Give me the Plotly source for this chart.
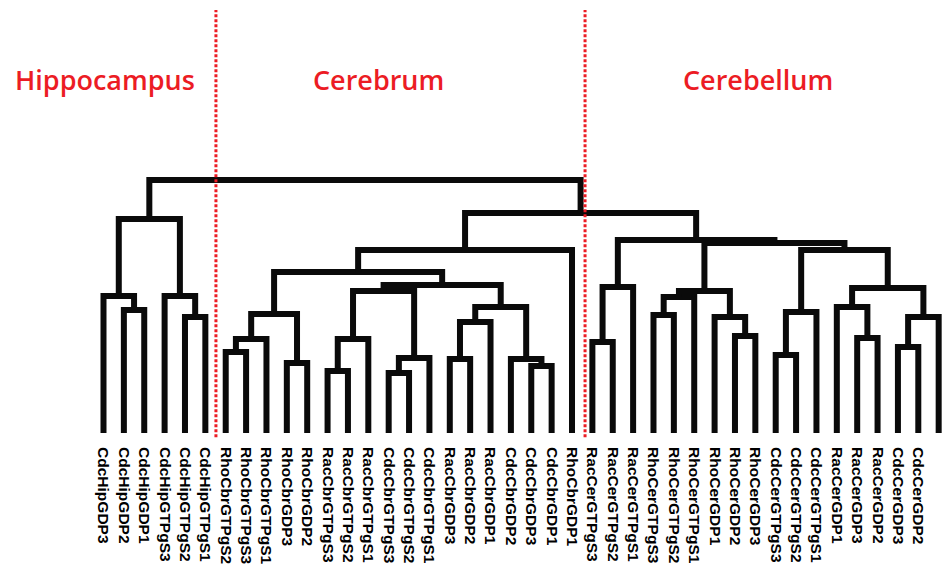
import plotly.graph_objects as go

# ---- data ----
leaf_labels = [
    "CdcHipGDP3", "CdcHipGDP2", "CdcHipGDP1", "CdcHipGTPgS3", "CdcHipGTPgS2", "CdcHipGTPgS1",
    "RhoCbrGTPgS2", "RhoCbrGTPgS3", "RhoCbrGTPgS1", "RhoCbrGDP3", "RhoCbrGDP2",
    "RacCbrGTPgS3", "RacCbrGTPgS2", "RacCbrGTPgS1",
    "CdcCbrGTPgS3", "CdcCbrGTPgS2", "CdcCbrGTPgS1",
    "RacCbrGDP3", "RacCbrGDP2", "RacCbrGDP1",
    "CdcCbrGDP2", "CdcCbrGDP3", "CdcCbrGDP1", "RhoCbrGDP1",
    "RacCerGTPgS3", "RacCerGTPgS2", "RacCerGTPgS1",
    "RhoCerGTPgS3", "RhoCerGTPgS2", "RhoCerGTPgS1",
    "RhoCerGDP1", "RhoCerGDP2", "RhoCerGDP3",
    "CdcCerGTPgS3", "CdcCerGTPgS2", "CdcCerGTPgS1",
    "RacCerGDP1", "RacCerGDP3", "RacCerGDP2",
    "CdcCerGDP3", "CdcCerGDP2", "CdcCerGDP1",
]

# merges: (left id, right id) ; ids < 42 are leaves, id 42+k is merge k
merge_left = [1, 0, 4, 3, 43, 6, 47, 9, 48, 11, 51, 14, 53, 52, 17, 56, 21, 20, 57, 55, 50, 62,
              24, 64, 27, 66, 31, 30, 67, 33, 71, 37, 36, 39, 75, 74, 72, 70, 65, 63, 46]
merge_right = [2, 42, 5, 44, 45, 7, 8, 10, 49, 12, 13, 15, 16, 54, 18, 19, 22, 58, 59, 60, 61, 23,
               25, 26, 28, 29, 32, 68, 69, 34, 35, 38, 73, 40, 41, 76, 77, 78, 79, 80, 81]
merge_height = [123, 137, 116, 137, 214, 81, 94, 70, 119, 62, 94, 60, 75, 142, 74, 111, 67, 74,
                126, 148, 161, 183, 91, 146, 118, 136, 97, 116, 142, 78, 121, 95, 126, 86, 116,
                145, 183, 190, 193, 220, 253]

group_names = ["Hippocampus", "Cerebrum", "Cerebellum"]
group_centers = [0.07, 13.52, 32.13]       # in leaf-index units
group_dividers = [5.52, 23.64]             # in leaf-index units

# ---- build dendrogram segments ----
n = len(leaf_labels)
pos = {i: float(i) for i in range(n)}
hgt = {i: 0.0 for i in range(n)}
xs, ys = [], []
for k, (a, b, h) in enumerate(zip(merge_left, merge_right, merge_height)):
    nid = n + k
    xs += [pos[a], pos[a], pos[b], pos[b], None]
    ys += [hgt[a], h, h, hgt[b], None]
    pos[nid] = (pos[a] + pos[b]) / 2
    hgt[nid] = h

fig = go.Figure()
fig.add_trace(go.Scatter(x=xs, y=ys, mode="lines",
                         line=dict(color="#0a0a0a", width=6),
                         hoverinfo="skip", showlegend=False))

x0_px, dx_px = 103.5, 20.37
W, H = 943, 564
plot_h = 433

for d in group_dividers:
    fig.add_shape(type="line", xref="x", yref="paper", x0=d, x1=d,
                  y0=-0.01, y1=(plot_h - 10) / plot_h,
                  line=dict(color="#ec1c24", width=3, dash="3px,2px"))

for name, c in zip(group_names, group_centers):
    fig.add_annotation(x=c, y=(plot_h - 80) / plot_h, xref="x", yref="paper",
                       text=name, showarrow=False, xanchor="center", yanchor="middle",
                       font=dict(family="Open Sans", size=27, weight=600, color="#ec1c24"))

fig.update_layout(
    width=W, height=H,
    margin=dict(l=0, r=0, t=0, b=H - plot_h, pad=0),
    plot_bgcolor="white", paper_bgcolor="white",
    xaxis=dict(range=[-x0_px / dx_px, (W - x0_px) / dx_px],
               tickmode="array", tickvals=list(range(n)), ticktext=leaf_labels,
               tickangle=90, ticks="outside", ticklen=10, tickcolor="rgba(0,0,0,0)",
               showgrid=False, zeroline=False, showline=False,
               tickfont=dict(family="Liberation Sans", size=15.5, weight="bold", color="black")),
    yaxis=dict(range=[0, plot_h], visible=False, showgrid=False, zeroline=False),
)

fig.write_html("out.html")
